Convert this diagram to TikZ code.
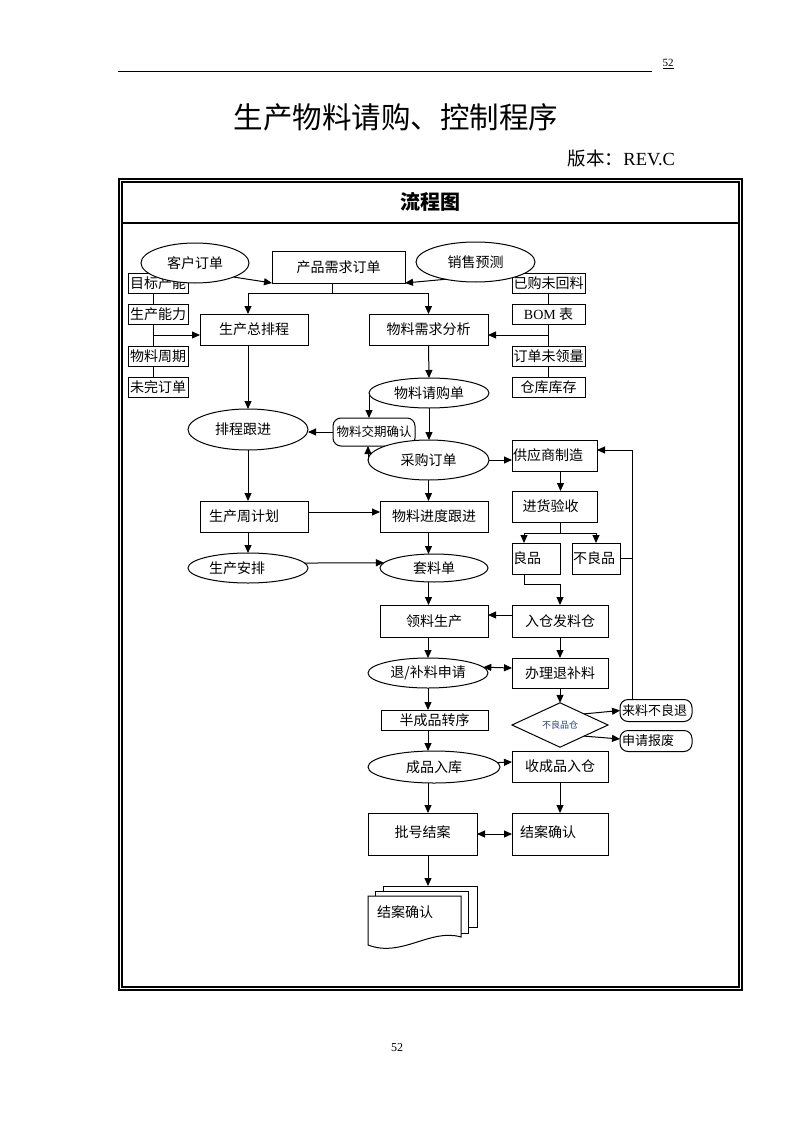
\documentclass[tikz,border=0pt]{standalone}
\usepackage{fontspec}
\setmainfont{Liberation Serif}
\newfontfamily\cjk{Noto Sans CJK SC}
\usetikzlibrary{shapes.geometric,arrows.meta,calc}
\definecolor{bpblue}{RGB}{40,60,140}
\begin{document}
\begin{tikzpicture}[x=1pt,y=-1pt,
  every node/.style={inner sep=0pt,outer sep=0pt,font=\cjk\fontsize{14}{16}\selectfont},
  ln/.style={line width=1pt},
  rbox/.style 2 args={draw,ln,fill=white,rectangle,minimum width=#1,minimum height=#2},
  ebox/.style 2 args={draw,ln,fill=white,ellipse,minimum width=#1,minimum height=#2},
  obox/.style 2 args={draw,ln,fill=white,rectangle,rounded corners=8pt,minimum width=#1,minimum height=#2},
  arr/.style={ln,-{Triangle[length=8pt,width=7pt]}},
  darr/.style={ln,{Triangle[length=8pt,width=7pt]}-{Triangle[length=8pt,width=7pt]}},
  frm/.style={line width=1.1pt}
]
\useasboundingbox (0,0) rectangle (794,1123);
\fill[white] (0,0) rectangle (794,1123);

% header
\coordinate (hl) at (118,72);
\coordinate (hr) at (652,72);
\draw[ln] (hl) -- (hr);
\node[font=\rmfamily\fontsize{11}{12}\selectfont] (pnum) at (668,64) {\underline{52}};
\node[font=\cjk\fontsize{29.5}{32}\selectfont] (title) at (396,117) {生产物料请购、控制程序};
\node[anchor=east,font=\cjk\fontsize{18.5}{20}\selectfont] (ver) at (675,158) {版本：{\rmfamily REV.C}};

% frame
\draw[frm] (119,179) rectangle (742,990);
\draw[frm] (122,182) rectangle (739,987);
\draw[frm] (122,223) -- (739,223);
\node[font=\cjk\bfseries\fontsize{20}{22}\selectfont] (lct) at (430,202) {流程图};

% footer
\node[font=\rmfamily\fontsize{12}{12}\selectfont] (fnum) at (397,1048) {52};

% left small boxes
\node[rbox={60pt}{20pt}] (mb1) at (158,283) {目标产能};
\node[rbox={60pt}{20pt}] (mb2) at (158,314) {生产能力};
\node[rbox={60pt}{20pt}] (mb3) at (158,356) {物料周期};
\node[rbox={60pt}{20pt}] (mb4) at (158,387) {未完订单};
% right small boxes
\node[rbox={73pt}{20pt}] (rb1) at (548.5,283) {已购未回料};
\node[rbox={73pt}{20pt}] (rb2) at (548.5,314) {{\rmfamily BOM} 表};
\node[rbox={73pt}{20pt}] (rb3) at (548.5,356) {订单未领量};
\node[rbox={73pt}{20pt}] (rb4) at (548.5,387) {仓库库存};

% top row
\node[ebox={108pt}{40pt}] (kh) at (195,263) {客户订单};
\node[rbox={133pt}{32pt}] (cp) at (338.5,267) {产品需求订单};
\node[ebox={119pt}{40pt}] (xs) at (475.5,262) {销售预测};

\node[rbox={108pt}{31pt}] (zp) at (254,329.5) {生产总排程};
\node[rbox={119pt}{31pt}] (wx) at (428.5,329.5) {物料需求分析};
\node[ebox={120pt}{30pt}] (qg) at (429,393) {物料请购单};
\node[ebox={120pt}{41pt}] (pg) at (248,429.5) {\hspace*{-10pt}排程跟进};
\node[obox={82pt}{28pt},font=\cjk\fontsize{12.5}{14}\selectfont] (jq) at (374,432) {物料交期确认};
\node[ebox={121pt}{40pt}] (cg) at (428.5,460) {采购订单};
\node[rbox={85pt}{31pt}] (gy) at (554.5,455.5) {\makebox[83pt][l]{供应商制造}};
\node[rbox={85pt}{31pt}] (jh) at (554.5,506.5) {\hspace*{-8pt}进货验收};
\node[rbox={48pt}{31pt}] (lp) at (536,558.5) {\makebox[46pt][l]{良品}};
\node[rbox={48pt}{31pt}] (bl) at (596,558.5) {\makebox[46pt][l]{不良品}};
\node[rbox={108pt}{31pt}] (zj) at (254,516.5) {\hspace*{-20pt}生产周计划};
\node[rbox={108pt}{31pt}] (jd) at (434,516.5) {物料进度跟进};
\node[ebox={120pt}{30pt}] (ap) at (248,568) {\hspace*{-22pt}生产安排};
\node[ebox={108pt}{28pt}] (tl) at (434,568) {套料单};
\node[rbox={108pt}{32pt}] (lz) at (434,621) {领料生产};
\node[rbox={96pt}{32pt}] (rc) at (560,621) {入仓发料仓};
\node[ebox={120pt}{30pt}] (tb) at (428,673) {退/补料申请};
\node[rbox={96pt}{30pt}] (bt) at (560,673) {办理退补料};
\node[draw,ln,fill=white,diamond,minimum width=96pt,minimum height=30pt,
      font=\cjk\fontsize{9}{10}\selectfont,text=bpblue] (bp) at (560,725) {不良品仓};
\node[obox={72pt}{22pt},font=\cjk\fontsize{13}{14}\selectfont] (ll) at (656,710.5) {\makebox[68pt][l]{来料不良退}};
\node[obox={72pt}{21pt},font=\cjk\fontsize{13}{14}\selectfont] (sq) at (656,741) {\raisebox{-3pt}{\makebox[68pt][l]{申请报废}}};
\node[rbox={107pt}{20pt}] (bz) at (434.5,720) {半成品转序};
\node[ebox={132pt}{32pt}] (cr) at (434,767) {成品入库};
\node[rbox={96pt}{31pt}] (sc) at (560,766.5) {收成品入仓};
\node[rbox={109pt}{42pt}] (ph) at (422.5,834) {\raisebox{5pt}{批号结案}};
\node[rbox={96pt}{42pt}] (ja) at (560,834) {\raisebox{5pt}{\makebox[92pt][l]{\hspace*{6pt}结案确认}}};

% multi-document
\draw[ln,fill=white] (383,886) rectangle (477,927);
\draw[ln,fill=white] (375,891) rectangle (468,933);
\draw[ln,fill=white] (368,896) -- (461,896) -- (461,937)
   .. controls (430,928) and (402,958) .. (368,945) -- cycle;
\coordinate (doc) at (428,886);
\node[anchor=west] (doct) at (377,912) {结案确认};

% ---- connectors ----
\draw[arr] (kh.-20) -- (cp.south west);
\draw[arr] (xs.-150) -- (cp.south east);
\coordinate (sp) at ($(cp.south)+(-6,10)$);
\draw[ln] (cp.south -| sp) -- (sp);
\draw[arr] (sp) -| (pg.north |- zp.north);
\draw[arr] (sp) -| (wx.north);

\draw[ln] ($(mb1.south)+(-5,0)$) -- ($(mb2.north)+(-5,0)$);
\draw[ln] ($(mb2.south)+(-5,0)$) -- ($(mb3.north)+(-5,0)$);
\draw[ln] ($(mb3.south)+(-5,0)$) -- ($(mb4.north)+(-5,0)$);
\coordinate (lj) at ($($(mb2.south)!0.5!(mb3.north)$)+(-5,0)$);
\draw[arr] (lj) -- (lj -| zp.west);
\draw[ln] (rb1.south) -- (rb2.north);
\draw[ln] (rb2.south) -- (rb3.north);
\draw[ln] (rb3.south) -- (rb4.north);
\coordinate (rj) at ($(rb2.south)!0.5!(rb3.north)$);
\draw[arr] (rj) -- (rj -| wx.east);

\draw[arr] (wx.south) -- (qg.north);
\draw[arr] (zp.south -| pg.north) -- (pg.north);
\draw[arr] (qg.west) -- (qg.west |- jq.north);
\draw[arr] (qg.south) -- (qg.south |- cg.north);
\draw[arr] (cg.west) -- (cg.west |- jq.south);
\draw[arr] (jq.west) -- (jq.west -| pg.east);
\draw[arr] (cg.east) -- (cg.east -| gy.west);
\draw[arr] ($(gy.south)+(6,0)$) -- ($(jh.north)+(6,0)$);
\coordinate (js) at ($(jh.south)+(6,11)$);
\draw[ln] ($(jh.south)+(6,0)$) -- (js);
\draw[arr] (js) -| ($(lp.north)+(-12,0)$);
\draw[arr] (js) -| (bl.north);
\coordinate (lq) at ($(rc.north)+(0,-21)$);
\draw[arr] ($(lp.south)+(-12,0)$) |- (lq) -- (rc.north);
\coordinate (fb) at (632,450);
\draw[ln] (bl.east) -- (bl.east -| fb);
\draw[arr] (fb |- ll.north) -- (fb) -- (fb -| gy.east);

\draw[arr] (pg.south) -- (pg.south |- zj.north);
\draw[arr] (cg.south) -- (cg.south |- jd.north);
\draw[arr] ($(zj.east)+(0,-4.5)$) -- ($(jd.west)+(0,-4.5)$);
\draw[arr] (zj.south -| ap.north) -- (ap.north);
\draw[arr] (jd.south -| cg.south) -- (tl.north -| cg.south);
\draw[arr] (ap.5) -- (tl.174);
\draw[arr] (tl.south -| cg.south) -- (lz.north -| cg.south);
\draw[arr] ($(rc.west)+(0,-6)$) -- ($(lz.east)+(0,-6)$);
\draw[arr] (lz.south -| tb.north) -- (tb.north);
\draw[arr] (rc.south) -- (bt.north);
\draw[darr] (tb.6) -- ($(bt.west)+(0,-5)$);
\draw[arr] (bt.south) -- (bp.north);
\draw[arr] (bp.north east) -- (ll.west);
\draw[arr] (bp.south east) -- ($(sq.west)+(0,-2)$);
\draw[arr] (tb.south) -- (tb.south |- bz.north);
\draw[arr] (bz.south -| tb.south) -- (cr.north -| tb.south);
\draw[arr] (cr.4.6) -- ($(sc.west)+(0,-4.5)$);
\draw[arr] (cr.south -| tb.south) -- (ph.north -| tb.south);
\draw[arr] (sc.south) -- (ja.north);
\draw[darr] (ph.east) -- (ja.west);
\draw[arr] (ph.south -| doc) -- (doc);
\end{tikzpicture}
\end{document}
